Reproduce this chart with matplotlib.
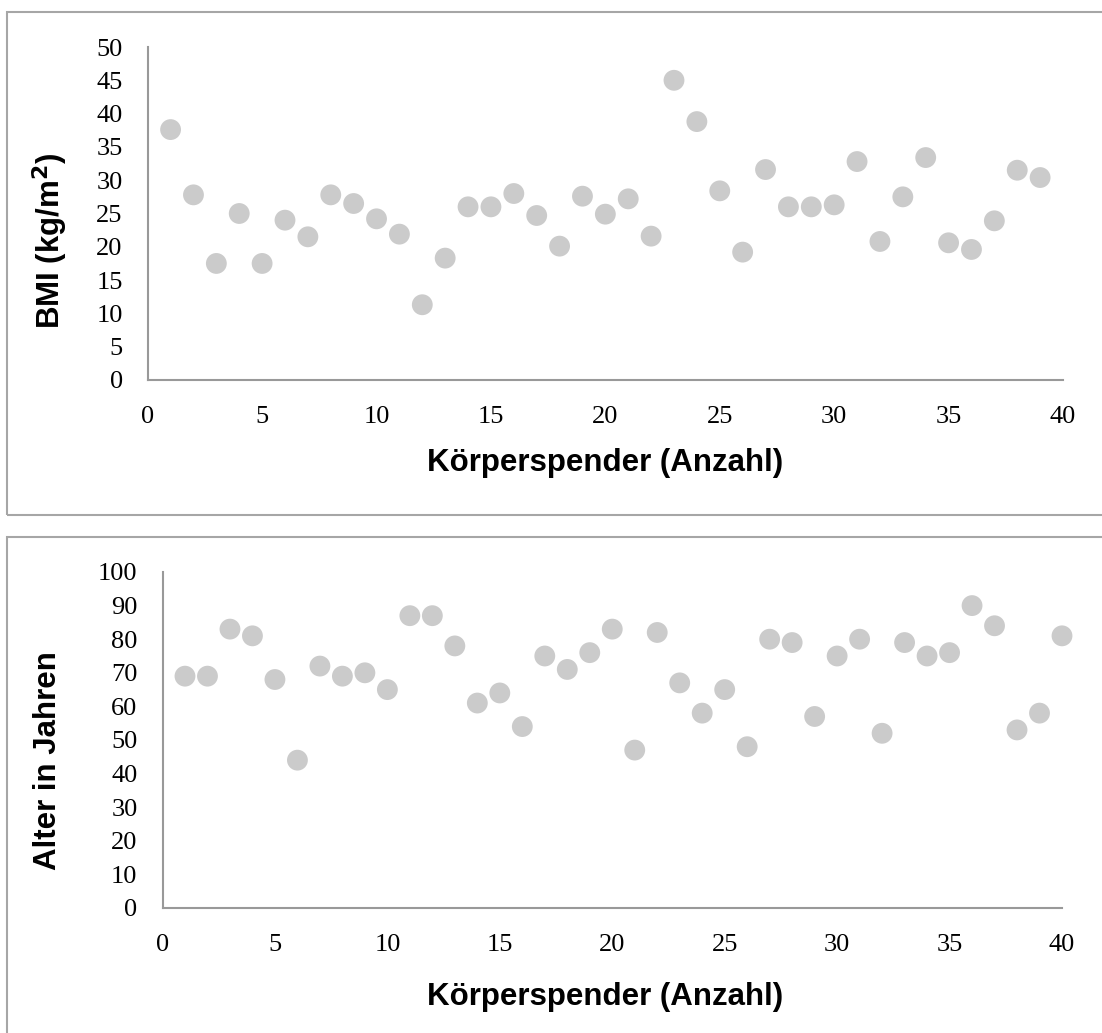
import matplotlib.pyplot as plt
import matplotlib.patheffects as pe
from matplotlib.patches import Rectangle

# Körperspender 1..39 (BMI) and 1..40 (Alter)
bmi_x = list(range(1, 40))
bmi = [37.6, 27.8, 17.5, 25.0, 17.5, 24.0, 21.5, 27.8, 26.5, 24.2,
       21.9, 11.3, 18.3, 26.0, 26.0, 28.0, 24.7, 20.1, 27.6, 24.9,
       27.2, 21.6, 45.0, 38.8, 28.4, 19.2, 31.6, 26.0, 26.0, 26.3,
       32.8, 20.8, 27.5, 33.4, 20.6, 19.6, 23.9, 31.5, 30.4]

age_x = list(range(1, 41))
age = [69, 69, 83, 81, 68, 44, 72, 69, 70, 65,
       87, 87, 78, 61, 64, 54, 75, 71, 76, 83,
       47, 82, 67, 58, 65, 48, 80, 79, 57, 75,
       80, 52, 79, 75, 76, 90, 84, 53, 58, 81]

W, H = 1102, 1033
fig = plt.figure(figsize=(W / 100, H / 100), dpi=100)

# panel frames
for top, bottom in [(12, 515), (537, 1100)]:
    fig.patches.append(Rectangle((7 / W, 1 - bottom / H), 1.2, (bottom - top) / H,
                                 transform=fig.transFigure, fill=False,
                                 edgecolor='#a6a6a6', linewidth=1.5))

shadow = [pe.SimpleLineShadow(offset=(0.6, -1.6), shadow_color='#555555', alpha=0.35), pe.Normal()]


def scatter_panel(rect, x, y, ymax, ystep, ylabel, xlab_pos, ylab_pos):
    ax = fig.add_axes(rect)
    ax.plot(x, y, 'o', linestyle='none', markersize=15, color='#cbcbcb',
            markeredgewidth=0, path_effects=shadow, clip_on=False)
    ax.set_xlim(0, 40)
    ax.set_ylim(0, ymax)
    ax.set_xticks(range(0, 41, 5))
    ax.set_yticks(range(0, ymax + 1, ystep))
    for s in ['top', 'right']:
        ax.spines[s].set_visible(False)
    for s in ['left', 'bottom']:
        ax.spines[s].set_color('#999999')
        ax.spines[s].set_linewidth(1.5)
    ax.tick_params(length=0, labelsize=19)
    ax.tick_params(axis='x', pad=19)
    ax.tick_params(axis='y', pad=18)
    for lab in ax.get_xticklabels() + ax.get_yticklabels():
        lab.set_fontfamily('Liberation Serif')
    ax.set_xlabel('Körperspender (Anzahl)', fontsize=22.5, fontweight='bold',
                  family='Liberation Sans', va='center')
    ax.set_ylabel(ylabel, fontsize=22.5, fontweight='bold', family='Liberation Sans',
                  va='center', ha='center')
    ax.xaxis.set_label_coords(*xlab_pos)
    ax.yaxis.set_label_coords(*ylab_pos)
    return ax


scatter_panel([147.7 / W, 1 - 380 / H, (1063 - 147.7) / W, 333 / H], bmi_x, bmi, 50, 5,
              'BMI (kg/m$\\mathbf{^2}$)', (0.5, -0.249), (-0.106, 0.417))
scatter_panel([162.5 / W, 1 - 908 / H, (1062 - 162.5) / W, 336 / H], age_x, age, 100, 10,
              'Alter in Jahren', (0.492, -0.265), (-0.127, 0.44))

fig.savefig('out.png', dpi=100)
